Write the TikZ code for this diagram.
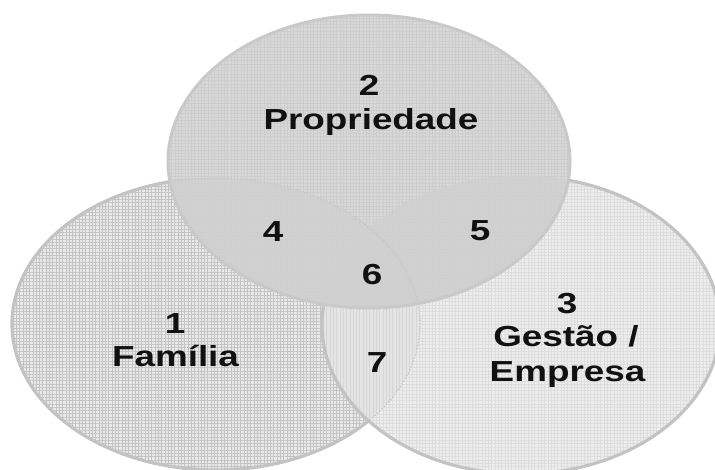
\documentclass[tikz,border=0pt]{standalone}
\usepackage{fontspec}
\usetikzlibrary{patterns.meta}
% wide bold sans for the labels
\newfontfamily\lab[FakeStretch=1.27]{Liberation Sans}

\definecolor{famfill}{HTML}{E9E9E9}
\definecolor{famgrid}{HTML}{C4C4C4}
\definecolor{gesfill}{HTML}{EDEDED}
\definecolor{gesgrid}{HTML}{DDDDDD}
\definecolor{midfill}{HTML}{E4E4E4}
\definecolor{midgrid}{HTML}{D6D6D6}
\definecolor{propfill}{HTML}{D8D8D8}
\definecolor{propgrid}{HTML}{CDCDCD}
\definecolor{propdark}{HTML}{D0D0D0}
\definecolor{rim}{HTML}{C3C3C3}
\definecolor{inkc}{HTML}{111111}

\tikzset{
  rimline/.style={draw=rim, line width=3.2pt},
  lbl/.style={font=\lab\bfseries\fontsize{29}{34}\selectfont, text=inkc,
              inner sep=0pt, anchor=base},
}

\begin{document}
\begin{tikzpicture}[x=1pt, y=-1pt]
\useasboundingbox (0,0) rectangle (715,470);
\fill[white] (0,0) rectangle (715,470);

% circle 1: family
\fill[famfill] (216,324) ellipse [x radius=204pt, y radius=146pt];
\fill[pattern={Hatch[angle=0,distance=3.3pt,line width=0.9pt]}, pattern color=famgrid]
  (216,324) ellipse [x radius=204pt, y radius=146pt];
\draw[rimline] (216,324) ellipse [x radius=204pt, y radius=146pt];

% circle 3: management / company
\fill[gesfill] (521,325) ellipse [x radius=199pt, y radius=149pt];
\fill[pattern={Hatch[angle=0,distance=3.3pt,line width=0.6pt]}, pattern color=gesgrid]
  (521,325) ellipse [x radius=199pt, y radius=149pt];
% overlap of 1 and 3
\begin{scope}
  \clip (216,324) ellipse [x radius=204pt, y radius=146pt];
  \fill[midfill] (521,325) ellipse [x radius=199pt, y radius=149pt];
  \fill[pattern={Lines[angle=90,distance=3.3pt,line width=0.6pt]}, pattern color=midgrid]
    (521,325) ellipse [x radius=199pt, y radius=149pt];
\end{scope}
\begin{scope}
  \clip (521,325) ellipse [x radius=199pt, y radius=149pt];
  \draw[rim, line width=1.2pt, dotted] (216,324) ellipse [x radius=204pt, y radius=146pt];
\end{scope}
\draw[rimline] (521,325) ellipse [x radius=199pt, y radius=149pt];

% circle 2: ownership
\fill[propfill] (369,161.5) ellipse [x radius=201pt, y radius=146.5pt];
\fill[pattern={Hatch[angle=0,distance=3.3pt,line width=0.6pt]}, pattern color=propgrid]
  (369,161.5) ellipse [x radius=201pt, y radius=146.5pt];
\begin{scope}
  \clip (369,161.5) ellipse [x radius=201pt, y radius=146.5pt];
  \fill[propdark, opacity=0.8] (216,324) ellipse [x radius=204pt, y radius=146pt];
  \fill[propdark, opacity=0.8] (521,325) ellipse [x radius=199pt, y radius=149pt];
  \draw[rim, line width=1pt, dotted] (216,324) ellipse [x radius=204pt, y radius=146pt];
  \draw[propdark, line width=0.8pt] (521,325) ellipse [x radius=199pt, y radius=149pt];
\end{scope}
\draw[draw=rim!90!white, line width=3pt] (369,161.5) ellipse [x radius=201pt, y radius=146.5pt];

% labels
\node[lbl] (n2a) at (369,95.7) {2};
\node[lbl] (n2b) at (371,129.3) {Propriedade};
\node[lbl] (n1a) at (175,333.3) {1};
\node[lbl] (n1b) at (175.5,366.7) {Família};
\node[lbl] (n3a) at (567,314) {3};
\node[lbl] (n3b) at (566,346.7) {Gestão /};
\node[lbl] (n3c) at (567.5,381.7) {Empresa};
\node[lbl] (n4) at (273,242) {4};
\node[lbl] (n5) at (480,241) {5};
\node[lbl] (n6) at (372,285) {6};
\node[lbl] (n7) at (377,372) {7};
\end{tikzpicture}
\end{document}
